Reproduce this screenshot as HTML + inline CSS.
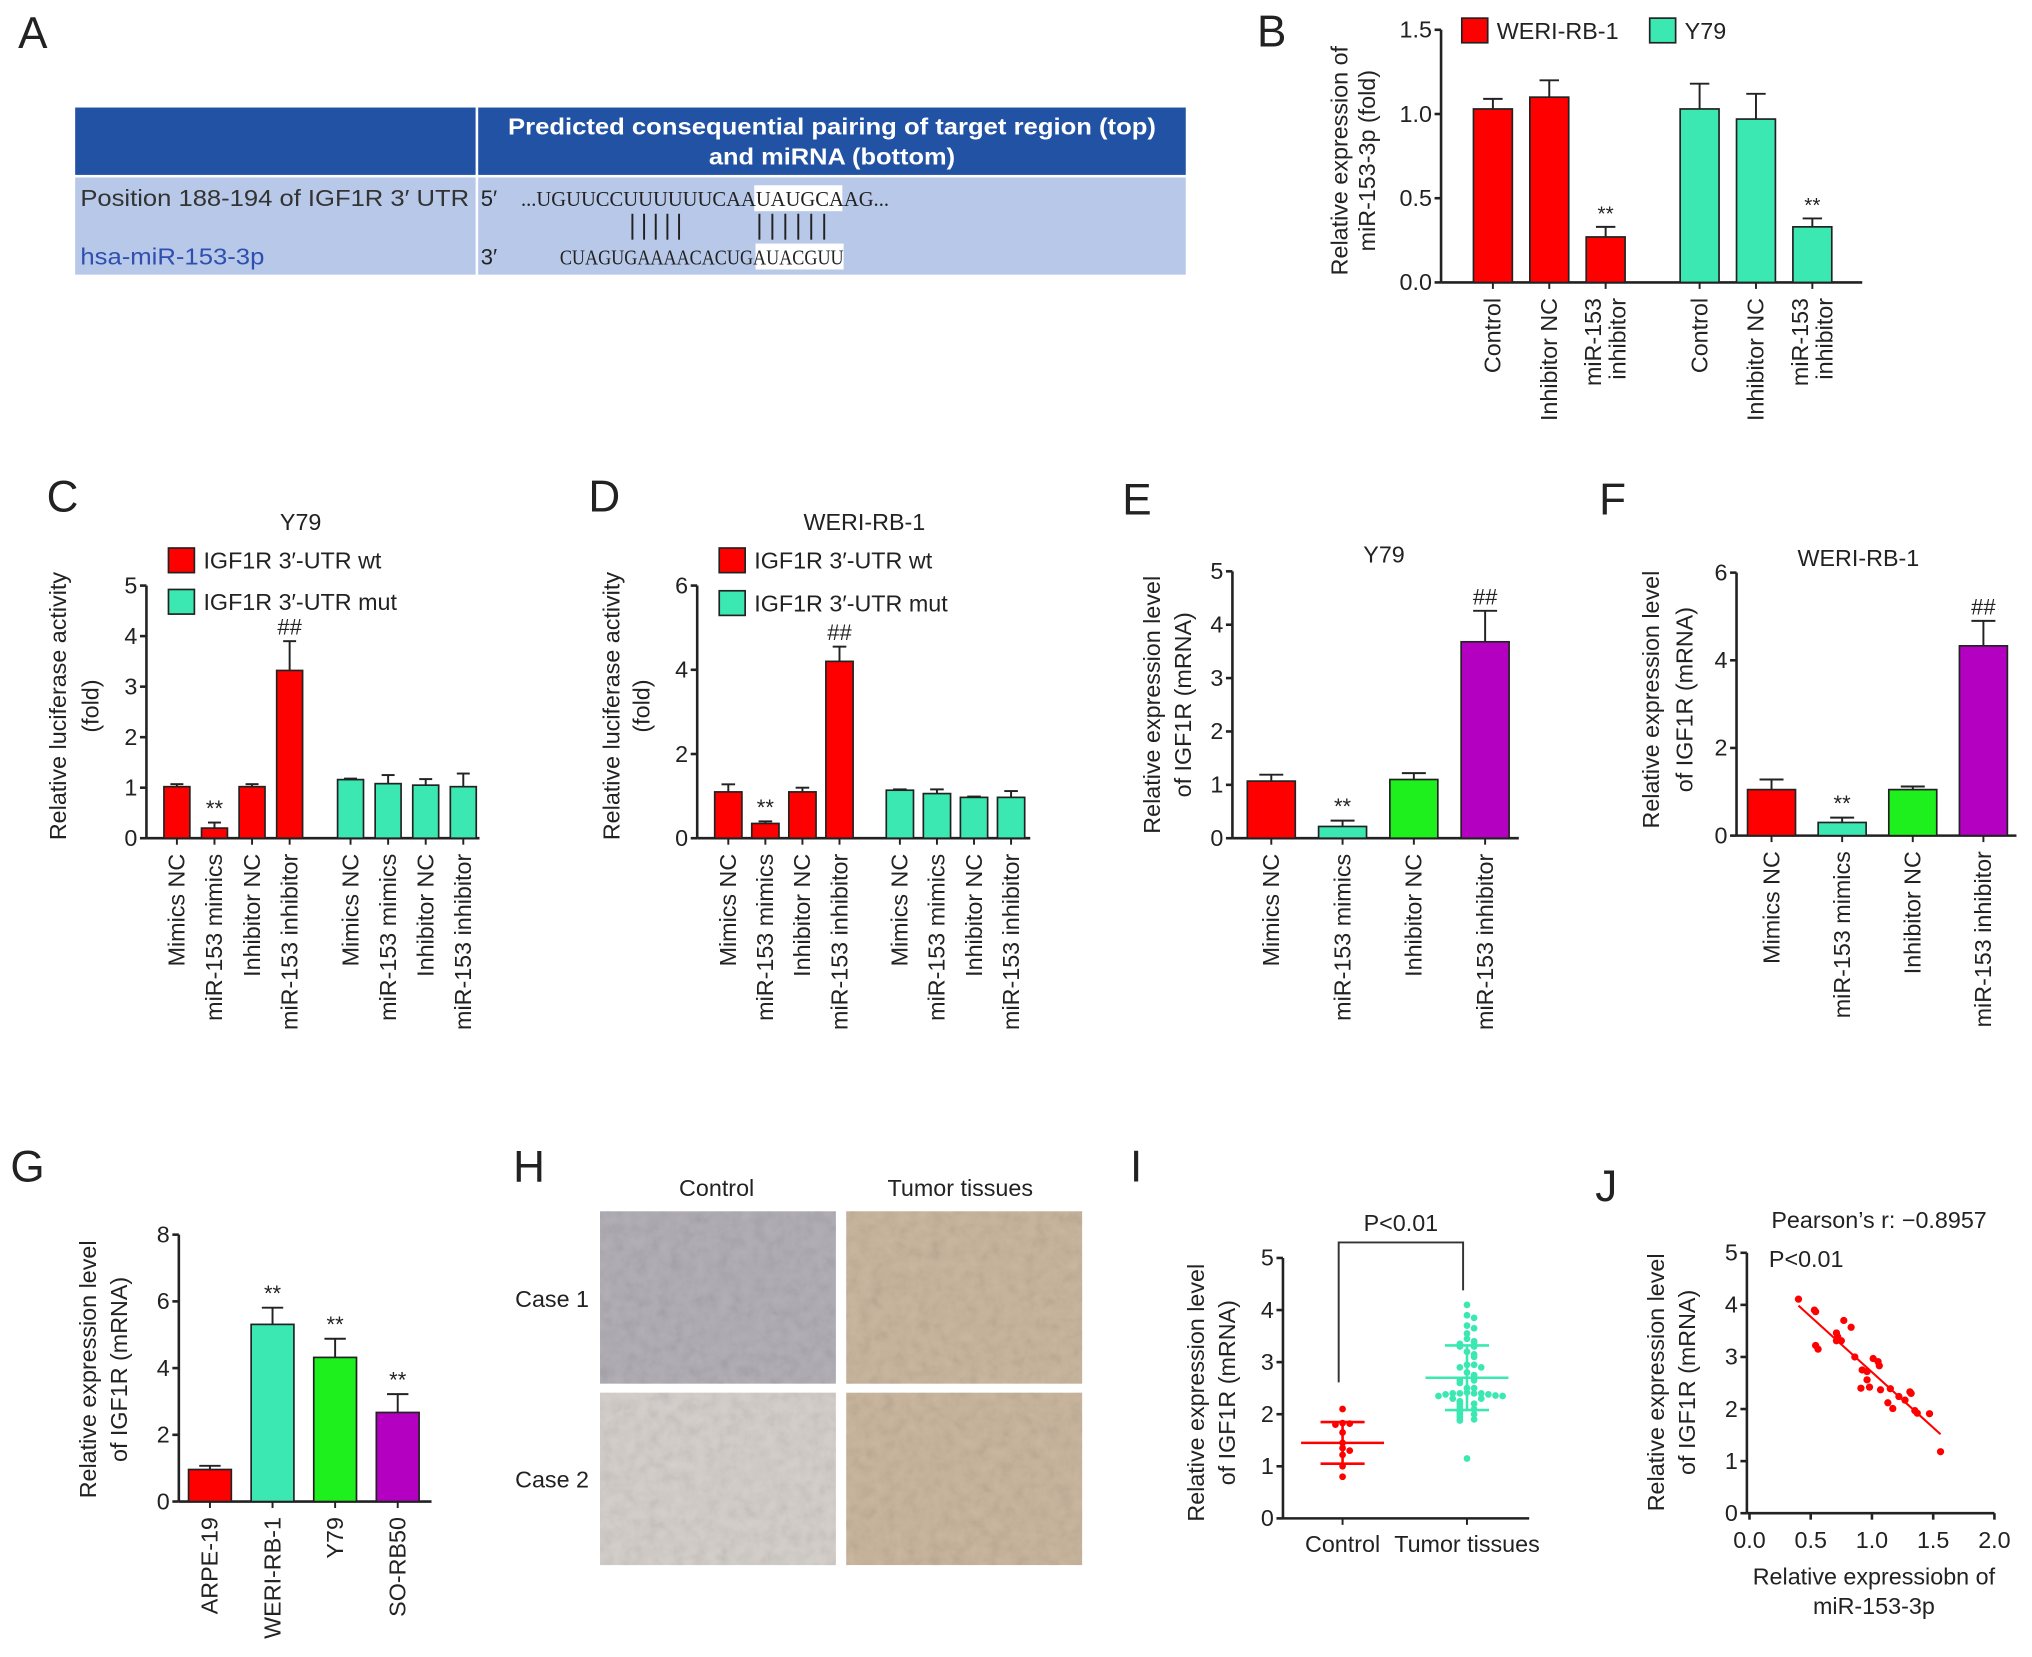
<!DOCTYPE html>
<html><head><meta charset="utf-8"><style>
html,body{margin:0;padding:0;background:#fff;}
svg{display:block;}
text{font-family:"Liberation Sans",Arial,sans-serif;fill:#222;}
</style></head><body>
<svg id="fig" xmlns="http://www.w3.org/2000/svg" width="2032" height="1657" viewBox="0 0 1568 1279" preserveAspectRatio="none">
<defs>
<filter id="noise" x="0" y="0" width="100%" height="100%"><feTurbulence type="fractalNoise" baseFrequency="0.11" numOctaves="3" seed="4"/><feColorMatrix type="saturate" values="0"/></filter>
</defs>
<g>
<text x="14" y="37" font-size="34">A</text>
<rect x="58" y="83" width="857" height="52" fill="#2152a3"/>
<rect x="58" y="137" width="857" height="75" fill="#b7c8e8"/>
<rect x="367" y="83" width="2" height="129" fill="#fff"/>
<text x="642" y="104" font-size="18" font-weight="bold" style="fill:#fff" text-anchor="middle" textLength="500" lengthAdjust="spacingAndGlyphs">Predicted consequential pairing of target region (top)</text>
<text x="642" y="127" font-size="18" font-weight="bold" style="fill:#fff" text-anchor="middle" textLength="190" lengthAdjust="spacingAndGlyphs">and miRNA (bottom)</text>
<text x="62" y="159" font-size="18" style="fill:#333" textLength="300" lengthAdjust="spacingAndGlyphs">Position 188-194 of IGF1R 3′ UTR</text>
<text x="62" y="204" font-size="18" style="fill:#2f4fb0" textLength="142" lengthAdjust="spacingAndGlyphs">hsa-miR-153-3p</text>
<text x="371" y="159" font-size="17">5′</text>
<text x="371" y="204" font-size="17">3′</text>
<rect x="582" y="143" width="68" height="20" fill="#fff"/>
<rect x="583" y="188" width="68" height="20" fill="#fff"/>
<text x="402" y="159" font-size="16" style="font-family:'Liberation Serif',serif" textLength="284" lengthAdjust="spacingAndGlyphs">...UGUUCCUUUUUUCAAUAUGCAAG...</text>
<text x="432" y="204" font-size="16" style="font-family:'Liberation Serif',serif" textLength="219" lengthAdjust="spacingAndGlyphs">CUAGUGAAAACACUGAUACGUU</text>
<g id="pipes" stroke="#222" stroke-width="1.5"></g>
</g>
<g id="charts"></g>
</svg>
<script>
// Panel B
const bCategories = [["Control"],["Inhibitor NC"],["miR-153","inhibitor"],["Control"],["Inhibitor NC"],["miR-153","inhibitor"]];
const bValues = [1.03, 1.10, 0.27, 1.03, 0.97, 0.33];
const bErrors = [0.06, 0.10, 0.06, 0.15, 0.15, 0.05];
const bMarks = ["", "", "**", "", "", "**"];
const bTicks = ["0.0","0.5","1.0","1.5"];
const bSeries = ["WERI-RB-1","Y79"];
// Panel C
const cCategories = ["Mimics NC","miR-153 mimics","Inhibitor NC","miR-153 inhibitor","Mimics NC","miR-153 mimics","Inhibitor NC","miR-153 inhibitor"];
const cValues = [1.02, 0.20, 1.02, 3.32, 1.16, 1.08, 1.05, 1.02];
const cErrors = [0.05, 0.11, 0.05, 0.58, 0.02, 0.17, 0.12, 0.26];
const cMarks = ["", "**", "", "##", "", "", "", ""];
const cTicks = ["0","1","2","3","4","5"];
const cSeries = ["IGF1R 3′-UTR wt","IGF1R 3′-UTR mut"];
// Panel D
const dCategories = cCategories.slice();
const dValues = [1.10, 0.35, 1.10, 4.20, 1.14, 1.06, 0.97, 0.97];
const dErrors = [0.18, 0.05, 0.10, 0.35, 0.02, 0.10, 0.02, 0.15];
const dMarks = ["", "**", "", "##", "", "", "", ""];
const dTicks = ["0","2","4","6"];
// Panel E
const eCategories = ["Mimics NC","miR-153 mimics","Inhibitor NC","miR-153 inhibitor"];
const eValues = [1.07, 0.22, 1.10, 3.68];
const eErrors = [0.12, 0.11, 0.12, 0.58];
const eMarks = ["", "**", "", "##"];
const eTicks = ["0","1","2","3","4","5"];
// Panel F
const fCategories = eCategories.slice();
const fValues = [1.05, 0.30, 1.05, 4.33];
const fErrors = [0.23, 0.11, 0.07, 0.57];
const fMarks = ["", "**", "", "##"];
const fTicks = ["0","2","4","6"];
// Panel G
const gCategories = ["ARPE-19","WERI-RB-1","Y79","SO-RB50"];
const gValues = [0.96, 5.31, 4.32, 2.67];
const gErrors = [0.11, 0.50, 0.56, 0.55];
const gMarks = ["", "**", "**", "**"];
const gTicks = ["0","2","4","6","8"];
// Panel I
const iGroups = ["Control","Tumor tissues"];
const iControl = [2.1, 1.83, 1.82, 1.8, 1.65, 1.45, 1.35, 1.3, 1.22, 1.0, 0.8];
const iTumor = [4.1,3.9,3.85,3.7,3.65,3.55,3.45,3.4,3.38,3.35,3.3,3.3,3.2,3.15,3.1,2.95,2.95,2.9,2.9,2.8,2.75,2.7,2.65,2.65,2.6,2.5,2.5,2.42,2.4,2.4,2.4,2.4,2.38,2.38,2.36,2.35,2.35,2.3,2.3,2.25,2.2,2.2,2.15,2.1,2.1,2.05,2.0,2.0,1.95,1.9,1.9,1.88,1.15];
const iMean = [1.45, 2.70];
const iSD = [0.40, 0.62];
const iTicks = ["0","1","2","3","4","5"];
// Panel J
const jX = [0.40,0.53,0.54,0.54,0.56,0.71,0.72,0.71,0.77,0.83,0.75,0.86,0.92,0.96,0.96,0.91,0.98,1.01,1.05,1.06,1.07,1.13,1.17,1.22,1.27,1.31,1.32,1.35,1.37,1.47,1.56,1.15];
const jY = [4.11,3.90,3.87,3.22,3.15,3.46,3.39,3.31,3.70,3.57,3.31,3.00,2.75,2.72,2.56,2.40,2.42,2.97,2.91,2.83,2.37,2.12,2.01,2.24,2.17,2.33,2.30,1.97,1.92,1.91,1.18,2.39];
const jXTicks = ["0.0","0.5","1.0","1.5","2.0"];
const jYTicks = ["0","1","2","3","4","5"];

const NS = "http://www.w3.org/2000/svg";
const root = document.getElementById("charts");
const FS = 18;
function mk(tag, attrs, parent) {
  const e = document.createElementNS(NS, tag);
  for (const k in attrs) e.setAttribute(k, attrs[k]);
  (parent || root).appendChild(e);
  return e;
}
function txt(s, attrs, parent) { const t = mk("text", attrs, parent); t.textContent = s; return t; }
const RED = "#ff0000", TEAL = "#3ce8b2", GREEN = "#1ef01e", PURPLE = "#b400c0";

(function(){
  const p = document.getElementById("pipes");
  const xs1 = [488,497,506,515,524], xs2 = [586,596,606,616,626,636];
  xs1.concat(xs2).forEach(x => {
    const l = mk("line", {x1:x, x2:x, y1:165, y2:185}, p);
    
    
  });
})();

function yTitle(lines, cx, cy, g) {
  lines.forEach((s, i) => {
    const x = cx[i];
    const t = txt(s, {x: x, y: cy, "font-size": FS, "text-anchor": "middle", transform: `rotate(-90 ${x} ${cy})`}, g);
    
    
  });
}

function barChart(o) {
  const g = mk("g", {});
  
  
  const maxV = parseFloat(o.ticks[o.ticks.length - 1]);
  const y = v => o.base - (o.base - o.top) * v / maxV;
  const cx = i => o.start + i * o.step + (o.groupAt && i >= o.groupAt ? o.gap : 0);
  const ya = mk("line", {x1:o.axisX, x2:o.axisX, y1:o.top, y2:o.base, stroke:"#222", "stroke-width":2}, g);
   
  const xa = mk("line", {x1:o.axisX, x2:o.axisEnd, y1:o.base, y2:o.base, stroke:"#222", "stroke-width":2}, g);
   
  o.ticks.forEach(t => {
    const yy = y(parseFloat(t));
    mk("line", {x1:o.axisX - 5, x2:o.axisX, y1:yy, y2:yy, stroke:"#222", "stroke-width":2}, g);
    const tl = txt(t, {x:o.axisX - 7, y:yy + 6, "font-size":FS, "text-anchor":"end"}, g);
     
  });
  o.values.forEach((v, i) => {
    const c = cx(i), top = y(v), w = o.barW;
    const r = mk("rect", {x:c - w/2, y:top, width:w, height:o.base - top, fill:o.colors[i], stroke:"#222", "stroke-width":1.3}, g);
     
    const et = y(v + o.errors[i]);
    mk("line", {x1:c, x2:c, y1:top, y2:et, stroke:"#222", "stroke-width":1.5}, g);
    mk("line", {x1:c - w*0.25, x2:c + w*0.25, y1:et, y2:et, stroke:"#222", "stroke-width":1.5}, g);
    mk("line", {x1:c, x2:c, y1:o.base, y2:o.base + 5, stroke:"#222", "stroke-width":1.5}, g);
    if (o.marks[i]) {
      const m = txt(o.marks[i], {x:c, y:et - 5, "font-size":o.markSize || 17, "text-anchor":"middle"}, g);
       
    }
    const lab = Array.isArray(o.labels[i]) ? o.labels[i] : [o.labels[i]];
    lab.forEach((s, k) => {
      const lx = c + 6 + (k - (lab.length - 1) / 2) * 19, ly = o.base + 12;
      const t = txt(s, {x:lx, y:ly, "font-size":FS, "text-anchor":"end", transform:`rotate(-90 ${lx} ${ly})`}, g);
       
    });
  });
  return g;
}
function legendItem(g, x, y, color, label, size) {
  const r = mk("rect", {x:x, y:y, width:20, height:19, fill:color, stroke:"#222", "stroke-width":1.3}, g);
   
  const t = txt(label, {x:x + 27, y:y + 16, "font-size":size || 18}, g);
   
}
function letter(s, x, y) {
  const t = txt(s, {x:x, y:y, "font-size":34});
  
  
}
function title(s, x, y) {
  const t = txt(s, {x:x, y:y, "font-size":FS, "text-anchor":"middle"});
  
  
}

letter("B", 970, 36);
{
  const g = barChart({name:"chart-b", axisX:1112, base:218, top:23, axisEnd:1437, ticks:bTicks, start:1152, step:43.5, groupAt:3, gap:29, barW:30,
    values:bValues, errors:bErrors, marks:bMarks, labels:bCategories, colors:[RED,RED,RED,TEAL,TEAL,TEAL], markSize:16});
  legendItem(g, 1128, 14, RED, bSeries[0]);
  legendItem(g, 1273, 14, TEAL, bSeries[1]);
  yTitle(["Relative expression of", "miR-153-3p (fold)"], [1040, 1061], 124, g);
}
letter("C", 36, 395);
title("Y79", 232, 409);
{
  const g = barChart({name:"chart-c", axisX:113, base:647, top:452, axisEnd:370, ticks:cTicks, start:136.5, step:29, groupAt:4, gap:18, barW:20,
    values:cValues, errors:cErrors, marks:cMarks, labels:cCategories, colors:[RED,RED,RED,RED,TEAL,TEAL,TEAL,TEAL]});
  legendItem(g, 130, 423, RED, cSeries[0]);
  legendItem(g, 130, 455, TEAL, cSeries[1]);
  yTitle(["Relative luciferase activity", "(fold)"], [51, 76], 545, g);
}
letter("D", 454, 395);
title("WERI-RB-1", 667, 409);
{
  const g = barChart({name:"chart-d", axisX:538, base:647, top:452, axisEnd:795, ticks:dTicks, start:562, step:28.6, groupAt:4, gap:18, barW:21,
    values:dValues, errors:dErrors, marks:dMarks, labels:dCategories, colors:[RED,RED,RED,RED,TEAL,TEAL,TEAL,TEAL]});
  legendItem(g, 555, 423, RED, cSeries[0]);
  legendItem(g, 555, 456, TEAL, cSeries[1]);
  yTitle(["Relative luciferase activity", "(fold)"], [478, 501], 545, g);
}
letter("E", 866, 397);
title("Y79", 1068, 434);
{
  const g = barChart({name:"chart-e", axisX:951, base:647, top:441, axisEnd:1172, ticks:eTicks, start:981, step:55, barW:37,
    values:eValues, errors:eErrors, marks:eMarks, labels:eCategories, colors:[RED,TEAL,GREEN,PURPLE]});
  yTitle(["Relative expression level", "of IGF1R (mRNA)"], [895, 919], 544, g);
}
letter("F", 1234, 397);
title("WERI-RB-1", 1434, 437);
{
  const g = barChart({name:"chart-f", axisX:1340, base:645, top:442, axisEnd:1556, ticks:fTicks, start:1367, step:54.5, barW:37,
    values:fValues, errors:fErrors, marks:fMarks, labels:fCategories, colors:[RED,TEAL,GREEN,PURPLE]});
  yTitle(["Relative expression level", "of IGF1R (mRNA)"], [1280, 1306], 540, g);
}
letter("G", 8, 912);
{
  const g = barChart({name:"chart-g", axisX:138, base:1159, top:953, axisEnd:333, ticks:gTicks, start:162, step:48.3, barW:33,
    values:gValues, errors:gErrors, marks:gMarks, labels:gCategories, colors:[RED,TEAL,GREEN,PURPLE]});
  yTitle(["Relative expression level", "of IGF1R (mRNA)"], [74, 98], 1057, g);
}
letter("H", 396, 912);
{
  const g = mk("g", {});
  
  
  txt("Control", {x:553, y:923, "font-size":FS, "text-anchor":"middle"}, g);
  txt("Tumor tissues", {x:741, y:923, "font-size":FS, "text-anchor":"middle"}, g);
  txt("Case 1", {x:426, y:1009, "font-size":FS, "text-anchor":"middle"}, g);
  txt("Case 2", {x:426, y:1148, "font-size":FS, "text-anchor":"middle"}, g);
  const tiles = [[463,935,"#b3b0b8"],[653,935,"#cbb8a0"],[463,1075,"#d6d1cd"],[653,1075,"#ccb8a0"]];
  const names = ["control-case-1","tumor-case-1","control-case-2","tumor-case-2"];
  tiles.forEach((t, i) => {
    const r = mk("rect", {x:t[0], y:t[1], width:182, height:133, fill:t[2]}, g);
    
    
    mk("rect", {x:t[0], y:t[1], width:182, height:133, filter:"url(#noise)", opacity:0.28, style:"mix-blend-mode:multiply"}, g);
  });
}
letter("I", 872, 912);
{
  const g = mk("g", {});
  
  
  const axisX = 990, base = 1172, top = 971, maxV = 5;
  const y = v => base - (base - top) * v / maxV;
  const gx = [1036, 1132];
  mk("line", {x1:axisX, x2:axisX, y1:top, y2:base, stroke:"#222", "stroke-width":2}, g);
  mk("line", {x1:axisX, x2:1180, y1:base, y2:base, stroke:"#222", "stroke-width":2}, g);
  iTicks.forEach(t => {
    const yy = y(parseFloat(t));
    mk("line", {x1:axisX - 5, x2:axisX, y1:yy, y2:yy, stroke:"#222", "stroke-width":2}, g);
    txt(t, {x:axisX - 7, y:yy + 6, "font-size":FS, "text-anchor":"end"}, g);
  });
  iGroups.forEach((s, i) => {
    mk("line", {x1:gx[i], x2:gx[i], y1:base, y2:base + 5, stroke:"#222", "stroke-width":1.5}, g);
    const t = txt(s, {x:gx[i], y:base + 26, "font-size":FS, "text-anchor":"middle"}, g);
     
  });
  yTitle(["Relative expression level", "of IGF1R (mRNA)"], [929, 953], 1075, g);
  mk("path", {d:`M${gx[0]-3} 1067 V959 H${gx[1]-3} V996`, fill:"none", stroke:"#333", "stroke-width":1.5}, g);
  txt("P<0.01", {x:1081, y:950, "font-size":FS, "text-anchor":"middle"}, g);
  const sets = [iControl, iTumor], cols = [RED, TEAL];
  sets.forEach((arr, si) => {
    const placed = [];
    arr.forEach(v => {
      const near = placed.filter(p => Math.abs(p - v) < 0.07).length;
      placed.push(v);
      const off = near === 0 ? 0 : (near % 2 ? 1 : -1) * Math.ceil(near / 2) * 5.5;
      const c = mk("circle", {cx:gx[si] + off, cy:y(v), r:2.6, fill:cols[si]}, g);
      
      
    });
    const m = iMean[si], sd = iSD[si];
    mk("line", {x1:gx[si] - 32, x2:gx[si] + 32, y1:y(m), y2:y(m), stroke:cols[si], "stroke-width":2}, g);
    [m - sd, m + sd].forEach(v => mk("line", {x1:gx[si] - 17, x2:gx[si] + 17, y1:y(v), y2:y(v), stroke:cols[si], "stroke-width":2}, g));
    mk("line", {x1:gx[si], x2:gx[si], y1:y(m - sd), y2:y(m + sd), stroke:cols[si], "stroke-width":2}, g);
  });
}
letter("J", 1231, 927);
{
  const g = mk("g", {});
  
  
  const axisX = 1348, base = 1168, top = 967, x0 = 1350, x1 = 1539;
  const y = v => base - (base - top) * v / 5;
  const x = v => x0 + (x1 - x0) * v / 2;
  mk("line", {x1:axisX, x2:axisX, y1:top, y2:base, stroke:"#222", "stroke-width":2}, g);
  mk("line", {x1:axisX, x2:x1, y1:base, y2:base, stroke:"#222", "stroke-width":2}, g);
  jYTicks.forEach(t => {
    const yy = y(parseFloat(t));
    mk("line", {x1:axisX - 5, x2:axisX, y1:yy, y2:yy, stroke:"#222", "stroke-width":2}, g);
    txt(t, {x:axisX - 7, y:yy + 6, "font-size":FS, "text-anchor":"end"}, g);
  });
  jXTicks.forEach(t => {
    const xx = x(parseFloat(t));
    mk("line", {x1:xx, x2:xx, y1:base, y2:base + 5, stroke:"#222", "stroke-width":2}, g);
    txt(t, {x:xx, y:base + 27, "font-size":FS, "text-anchor":"middle"}, g);
  });
  yTitle(["Relative expression level", "of IGF1R (mRNA)"], [1284, 1308], 1067, g);
  txt("Relative expressiobn of", {x:1446, y:1223, "font-size":FS, "text-anchor":"middle"}, g);
  txt("miR-153-3p", {x:1446, y:1246, "font-size":FS, "text-anchor":"middle"}, g);
  txt("Pearson’s r: −0.8957", {x:1450, y:948, "font-size":FS, "text-anchor":"middle"}, g);
  txt("P<0.01", {x:1365, y:978, "font-size":FS}, g);
  jX.forEach((v, i) => {
    const c = mk("circle", {cx:x(v), cy:y(jY[i]), r:2.8, fill:RED}, g);
    
    
  });
  const n = jX.length, mx = jX.reduce((a,b)=>a+b,0)/n, my = jY.reduce((a,b)=>a+b,0)/n;
  let sxy = 0, sxx = 0;
  jX.forEach((v, i) => { sxy += (v - mx) * (jY[i] - my); sxx += (v - mx) * (v - mx); });
  const b = sxy / sxx, a = my - b * mx;
  const xa = Math.min(...jX), xb = Math.max(...jX);
  const l = mk("line", {x1:x(xa), y1:y(a + b * xa), x2:x(xb), y2:y(a + b * xb), stroke:RED, "stroke-width":1.6}, g);
  
  
}
</script>
</body></html>
